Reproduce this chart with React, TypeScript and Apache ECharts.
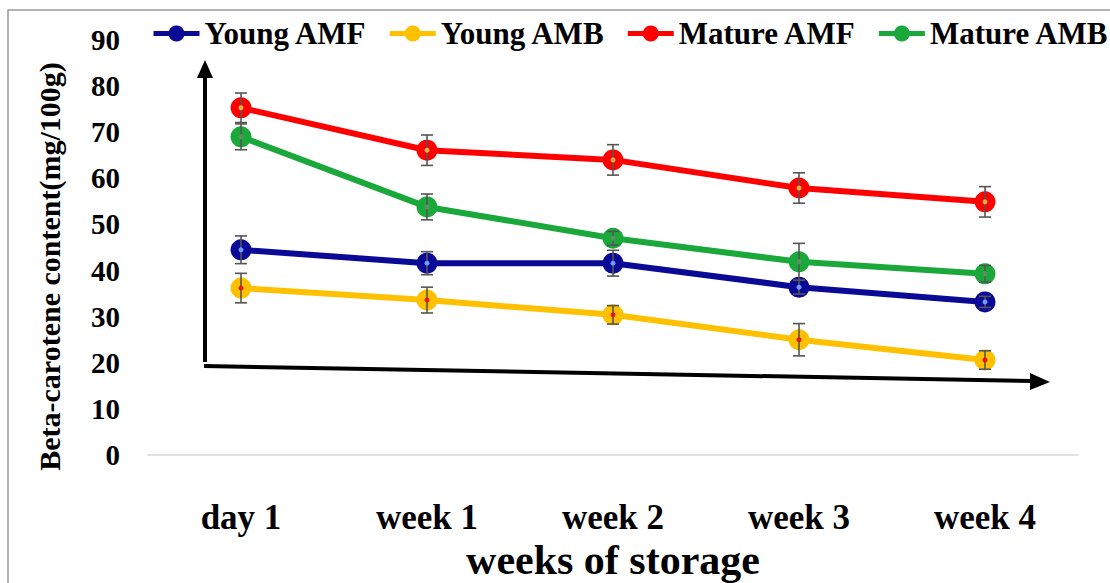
import React, { useEffect, useRef } from "react";
import * as echarts from "echarts";

const categories = ["day 1", "week 1", "week 2", "week 3", "week 4"];
const yTicks = [0, 10, 20, 30, 40, 50, 60, 70, 80, 90];

const seriesNames = ["Young AMF", "Young AMB", "Mature AMF", "Mature AMB"];
const youngAMF = [44.5, 41.6, 41.6, 36.4, 33.2];
const youngAMB = [36.2, 33.6, 30.4, 25.0, 20.6];
const matureAMF = [75.3, 66.1, 64.0, 57.9, 54.9];
const matureAMB = [69.0, 53.8, 47.0, 41.9, 39.3];

const youngAMFErr = [3.0, 2.5, 2.8, 1.5, 1.2];
const youngAMBErr = [3.2, 2.8, 2.0, 3.5, 2.0];
const matureAMFErr = [3.2, 3.3, 3.3, 3.3, 3.3];
const matureAMBErr = [2.8, 2.8, 1.5, 4.0, 1.8];

const colors = ["#0a0a96", "#ffc000", "#ff0000", "#1aa83a"];
const dotColors = ["#6f9cff", "#e8121e", "#e8b040", "#5f8f62"];

const FONT = "'Liberation Serif', 'Times New Roman', serif";

export default function App() {
  const ref = useRef<HTMLDivElement>(null);
  useEffect(() => {
    document.body.style.margin = "0";
    if (!ref.current) return;
    const chart = echarts.init(ref.current, null, { renderer: "svg" });
    const values = [youngAMF, youngAMB, matureAMF, matureAMB];
    const errs = [youngAMFErr, youngAMBErr, matureAMFErr, matureAMBErr];

    const lineSeries = seriesNames.map((name, i) => ({
      name,
      type: "line",
      data: values[i],
      symbol: "circle",
      symbolSize: 21,
      lineStyle: { width: 6, color: colors[i] },
      itemStyle: { color: colors[i] },
      z: 2 + i,
    }));

    const errSeries = seriesNames.map((name, i) => ({
      name: name + " error",
      type: "custom",
      data: values[i].map((v, j) => [j, v, errs[i][j]]),
      z: 20,
      silent: true,
      renderItem: (params: any, api: any) => {
        const x = api.value(0);
        const v = api.value(1);
        const e = api.value(2);
        const top = api.coord([x, v + e]);
        const bot = api.coord([x, v - e]);
        const mid = api.coord([x, v]);
        const cap = 6;
        const st = { stroke: "#555555", lineWidth: 1.6 };
        return {
          type: "group",
          children: [
            { type: "line", shape: { x1: top[0], y1: top[1], x2: bot[0], y2: bot[1] }, style: st },
            { type: "line", shape: { x1: top[0] - cap, y1: top[1], x2: top[0] + cap, y2: top[1] }, style: st },
            { type: "line", shape: { x1: bot[0] - cap, y1: bot[1], x2: bot[0] + cap, y2: bot[1] }, style: st },
            { type: "circle", shape: { cx: mid[0], cy: mid[1], r: 2.5 }, style: { fill: dotColors[i] } },
          ],
        };
      },
    }));

    chart.setOption({
      animation: false,
      backgroundColor: "#ffffff",
      textStyle: { fontFamily: FONT },
      grid: { left: 148, right: 32, top: 40, bottom: 128, outerBoundsMode: "none", containLabel: false },
      legend: {
        data: seriesNames,
        left: 151,
        top: 18,
        width: 1200,
        padding: 0,
        itemWidth: 46,
        itemHeight: 20,
        itemGap: 20,
        lineStyle: { width: 5 },
        textStyle: { fontFamily: FONT, fontWeight: "bold", fontSize: 31, color: "#000" },
      },
      xAxis: {
        type: "category",
        data: categories,
        boundaryGap: true,
        axisLine: { show: true, lineStyle: { color: "#d9d9d9", width: 1.5 } },
        axisTick: { show: false },
        axisLabel: {
          fontFamily: FONT,
          fontWeight: "bold",
          fontSize: 35,
          color: "#000",
          margin: 45,
        },
        name: "weeks of storage",
        nameLocation: "middle",
        nameGap: 84,
        nameMoveOverlap: false,
        nameTextStyle: { fontFamily: FONT, fontWeight: "bold", fontSize: 42, color: "#000" },
      },
      yAxis: {
        type: "value",
        min: yTicks[0],
        max: yTicks[yTicks.length - 1],
        interval: 10,
        splitLine: { show: false },
        axisLine: { show: false },
        axisTick: { show: false },
        axisLabel: {
          fontFamily: FONT,
          fontWeight: "bold",
          fontSize: 29,
          color: "#000",
          margin: 28,
        },
        name: "Beta-carotene content(mg/100g)",
        nameLocation: "middle",
        nameGap: 84,
        nameMoveOverlap: false,
        nameTextStyle: {
          fontFamily: FONT,
          fontWeight: "bold",
          fontSize: 30,
          color: "#000",
          padding: [0, 38, 0, 0],
        },
      },
      graphic: [
        {
          type: "rect",
          shape: { x: 8, y: 10, width: 1120, height: 590 },
          style: { fill: "none", stroke: "#9a9a9a", lineWidth: 1.5 },
          silent: true,
        },
        {
          type: "line",
          shape: { x1: 205, y1: 362, x2: 205, y2: 76 },
          style: { stroke: "#000", lineWidth: 4 },
          silent: true,
        },
        {
          type: "polygon",
          shape: { points: [[205, 60], [197, 78], [213, 78]] },
          style: { fill: "#000" },
          silent: true,
        },
        {
          type: "line",
          shape: { x1: 204, y1: 366, x2: 1032, y2: 381 },
          style: { stroke: "#000", lineWidth: 4 },
          silent: true,
        },
        {
          type: "polygon",
          shape: { points: [[1050, 382], [1030, 373], [1030, 390]] },
          style: { fill: "#000" },
          silent: true,
        },
      ],
      series: [...lineSeries, ...errSeries],
    });
    return () => chart.dispose();
  }, []);
  return <div ref={ref} style={{ width: 1110, height: 583 }} />;
}
